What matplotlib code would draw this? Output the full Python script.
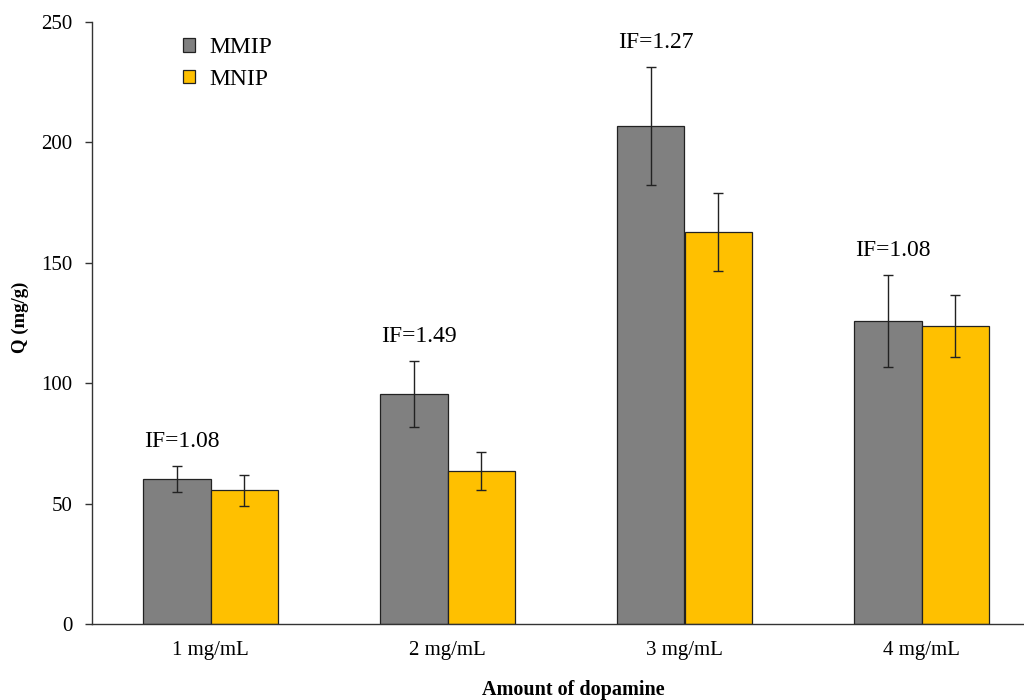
import matplotlib
matplotlib.use("Agg")
import matplotlib.pyplot as plt
import numpy as np

categories = ["1 mg/mL", "2 mg/mL", "3 mg/mL", "4 mg/mL"]
mmip = [60.2, 95.5, 206.8, 125.8]
mmip_err = [5.5, 13.7, 24.5, 19.1]
mnip = [55.6, 63.5, 162.8, 123.8]
mnip_err = [6.4, 7.9, 16.2, 13.0]
if_labels = ["IF=1.08", "IF=1.49", "IF=1.27", "IF=1.08"]

plt.rcParams['font.family'] = ['Liberation Serif', 'DejaVu Serif']

fig = plt.figure(figsize=(10.24, 7.0), dpi=100)
ax = fig.add_axes([92/1024, 1-624/700, 948/1024, (624-22)/700])

x = np.arange(len(categories))
w = 0.285
ekw = dict(ecolor='#222222', elinewidth=1.0, capsize=3.8, capthick=1.0)
ax.bar(x - w/2, mmip, w, yerr=mmip_err, color='#808080', edgecolor='#222222',
       linewidth=0.9, label='MMIP', error_kw=ekw)
ax.bar(x + w/2, mnip, w, yerr=mnip_err, color='#FFC000', edgecolor='#222222',
       linewidth=0.9, label='MNIP', error_kw=ekw)

for i, t in enumerate(if_labels):
    ax.annotate(t, xy=(x[i] - w/2 + 0.02, mmip[i] + mmip_err[i]), xytext=(0, 10),
                textcoords='offset points', ha='center', va='bottom', fontsize=17)

ax.set_xlim(-0.5, len(categories) - 0.5)
ax.set_ylim(0, 250)
ax.set_yticks([0, 50, 100, 150, 200, 250])
ax.set_xticks(x)
ax.set_xticklabels(categories)
ax.tick_params(axis='x', length=0, labelsize=15, pad=12)
ax.tick_params(axis='y', length=5, width=1, direction='out', labelsize=15, pad=9,
               colors='#333333', labelcolor='black')
for s in ['top', 'right']:
    ax.spines[s].set_visible(False)
for s in ['left', 'bottom']:
    ax.spines[s].set_color('#333333')
    ax.spines[s].set_linewidth(1.0)

ax.set_ylabel('Q (mg/g)', fontsize=13.5, fontweight='bold', labelpad=9)
ax.set_xlabel('Amount of dopamine', fontsize=14.5, fontweight='bold', labelpad=15)
ax.xaxis.label.set_x(0.508)
ax.yaxis.label.set_y(0.51)

ax.legend(loc='upper left', bbox_to_anchor=(0.074, 1.01), frameon=False, fontsize=17,
          handlelength=0.5, handleheight=0.5, handletextpad=0.6, labelspacing=0.45)

fig.savefig('out.png', dpi=100)
